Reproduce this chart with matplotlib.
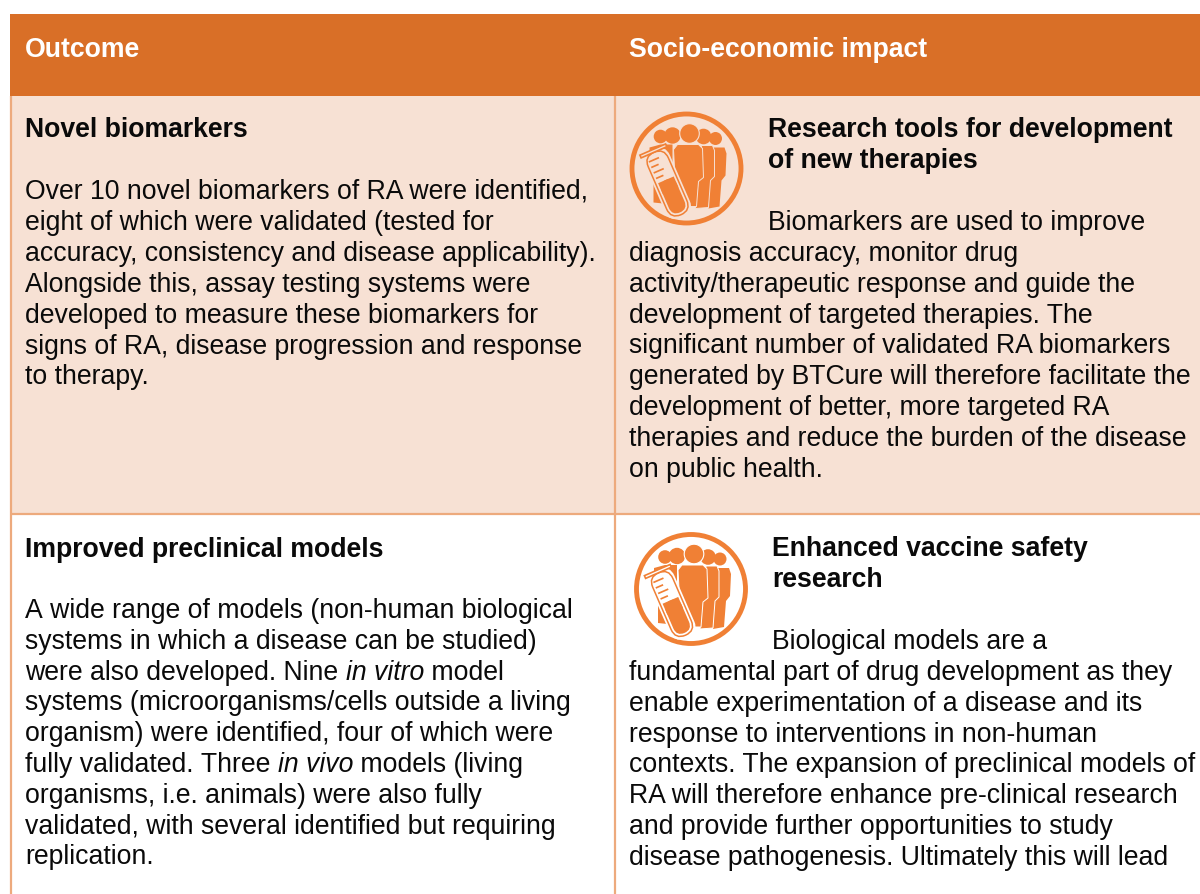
import numpy as np
import matplotlib
matplotlib.use("Agg")
import matplotlib.pyplot as plt
from matplotlib.patches import Rectangle, Circle, Polygon, FancyBboxPatch
from matplotlib.transforms import Affine2D

FONT = "Liberation Sans"
SIZE = 19.2
HEADER = "#D96F27"
CELL = "#F7E1D4"
BORDER = "#EDAA7D"
ICON = "#F08035"

headers = ["Outcome", "Socio-economic impact"]
title_r1_left = "Novel biomarkers"
body_r1_left = ["Over 10 novel biomarkers of RA were identified,",
                "eight of which were validated (tested for",
                "accuracy, consistency and disease applicability).",
                "Alongside this, assay testing systems were",
                "developed to measure these biomarkers for",
                "signs of RA, disease progression and response",
                "to therapy."]
title_r1_right = ["Research tools for development", "of new therapies"]
lead_r1_right = "Biomarkers are used to improve"
body_r1_right = ["diagnosis accuracy, monitor drug",
                 "activity/therapeutic response and guide the",
                 "development of targeted therapies. The",
                 "significant number of validated RA biomarkers",
                 "generated by BTCure will therefore facilitate the",
                 "development of better, more targeted RA",
                 "therapies and reduce the burden of the disease",
                 "on public health."]
title_r2_left = "Improved preclinical models"
body_r2_left = [[("A wide range of models (non-human biological", False)],
                [("systems in which a disease can be studied)", False)],
                [("were also developed. Nine ", False), ("in vitro", True), (" model", False)],
                [("systems (microorganisms/cells outside a living", False)],
                [("organism) were identified, four of which were", False)],
                [("fully validated. Three ", False), ("in vivo", True), (" models (living", False)],
                [("organisms, i.e. animals) were also fully", False)],
                [("validated, with several identified but requiring", False)],
                [("replication.", False)]]
title_r2_right = ["Enhanced vaccine safety", "research"]
lead_r2_right = "Biological models are a"
body_r2_right = ["fundamental part of drug development as they",
                 "enable experimentation of a disease and its",
                 "response to interventions in non-human",
                 "contexts. The expansion of preclinical models of",
                 "RA will therefore enhance pre-clinical research",
                 "and provide further opportunities to study",
                 "disease pathogenesis. Ultimately this will lead"]

fig = plt.figure(figsize=(12, 8.94), dpi=100, facecolor="white")
ax = fig.add_axes([0, 0, 1, 1])
ax.set_xlim(0, 1200)
ax.set_ylim(894, 0)
ax.axis("off")

# table
ax.add_patch(Rectangle((10, 14), 1190, 82, fc=HEADER, ec="none"))
ax.add_patch(Rectangle((10, 96), 1190, 418, fc=CELL, ec="none"))
ax.plot([11, 11], [96, 894], color=BORDER, lw=1.6, solid_capstyle="butt")
ax.plot([615, 615], [96, 894], color=BORDER, lw=1.6, solid_capstyle="butt")
ax.plot([10, 1200], [514, 514], color=BORDER, lw=1.6, solid_capstyle="butt")


def put(x, y, s, bold=False, italic=False, color="#0A0A0A"):
    return ax.text(x, y, s, family=FONT, fontsize=SIZE, va="baseline", ha="left", color=color,
                   fontweight="bold" if bold else "normal",
                   fontstyle="italic" if italic else "normal")


def block(x, y0, lines, step=30.8, bold=False):
    for i, line in enumerate(lines):
        put(x, y0 + i * step, line, bold=bold)


def icon(cx, cy, bg):
    t = Affine2D().translate(cx, cy) + ax.transData
    def add(p):
        p.set_transform(t)
        ax.add_patch(p)
    add(Circle((0, 0), 54.5, fc="none", ec=ICON, lw=3.5))
    # heads
    for hx, hy, r in [(-26, -32, 6.8), (29, -30, 6.5), (-14, -33, 8.2), (17, -32, 7.8), (3, -35, 9.8)]:
        add(Circle((hx, hy), r, fc=ICON, ec="none" if r < 9 else bg, lw=0.8))
    # back bodies
    add(Polygon([(-37, -21), (-26, -24), (-14, -24), (-14, 36), (-33, 34), (-33, 5), (-37, 2)], fc=ICON, ec="none"))
    add(Polygon([(24, -21), (38, -21), (40, -15), (39, 7), (35, 12), (33, 38), (22, 40)], fc=ICON, ec="none"))
    add(Polygon([(15, -23), (26, -23), (28, -18), (28, 8), (24, 12), (22, 39), (9, 40)], fc=ICON, ec=bg, lw=0.7))
    # front body
    add(Polygon([(-13, -19), (-9, -24), (12, -24), (16, -20), (17, 9), (12, 13), (10, 38), (-10, 38)],
                fc=ICON, ec=bg, lw=0.7))
    # test tube (local frame rotated)
    rot = Affine2D().rotate_deg(-23.5).translate(-19, 15) + t
    def addt(p):
        p.set_transform(rot)
        ax.add_patch(p)
    addt(FancyBboxPatch((-12, -35), 24, 70, boxstyle="round,pad=1.5,rounding_size=11.5", fc=bg, ec="none"))
    addt(FancyBboxPatch((-11, -34), 22, 68, boxstyle="round,pad=0,rounding_size=11", fc=bg, ec=ICON, lw=1.1))
    addt(FancyBboxPatch((-8.5, -4), 17, 35.5, boxstyle="round,pad=0,rounding_size=8.5", fc=ICON, ec="none"))
    addt(Rectangle((-8.5, -4), 17, 12, fc=ICON, ec="none"))
    addt(Rectangle((-14, -37), 28, 3, fc=bg, ec=ICON, lw=1.2))
    for k, yy in enumerate([-28, -22, -16, -10]):
        addt(Rectangle((-8.5, yy), 8 if k % 2 else 11, 1.7, fc=ICON, ec="none"))


# header
put(25, 57, headers[0], bold=True, color="white")
put(629, 57, headers[1], bold=True, color="white")

# row 1
put(25, 137, title_r1_left, bold=True)
block(25, 199, body_r1_left, step=30.9)
icon(686.5, 168.5, CELL)
block(768, 137, title_r1_right, step=30.5, bold=True)
put(768, 230, lead_r1_right)
block(629, 261, body_r1_right, step=30.8)

# row 2
put(25, 557, title_r2_left, bold=True)
renderer = fig.canvas.get_renderer()
for i, spans in enumerate(body_r2_left):
    x = 25
    y = 618 + i * 30.8
    for s, it in spans:
        tmp = put(x, y, s.replace(" ", "\u00a0"), italic=it)
        x = tmp.get_window_extent(renderer).x1
icon(691, 589, "white")
block(772, 556, title_r2_right, step=31, bold=True)
put(772, 649, lead_r2_right)
block(629, 680, body_r2_right, step=30.8)

fig.savefig("out.png", dpi=100)
